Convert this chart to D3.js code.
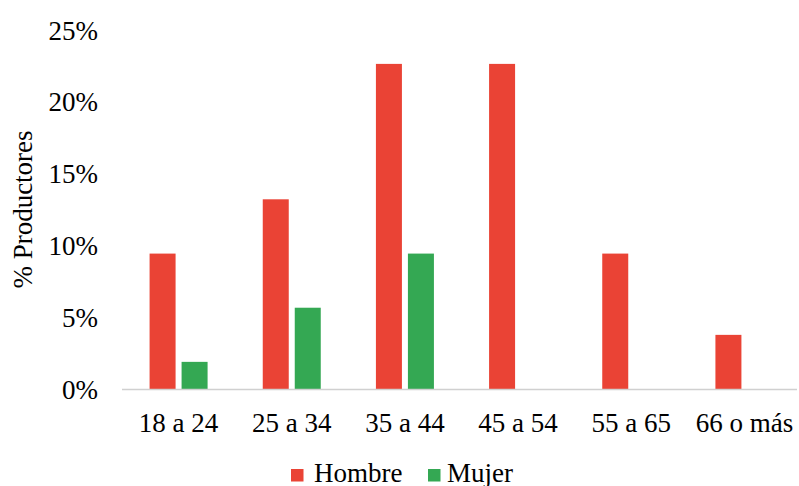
<!DOCTYPE html>
<html>
<head>
<meta charset="utf-8">
<script src="https://cdn.jsdelivr.net/npm/d3@7"></script>
<style>
  html, body { margin: 0; padding: 0; background: #fff; }
  svg { display: block; }
  svg text { font-family: "Times New Roman", "Liberation Serif", Times, serif; fill: #000; }
</style>
</head>
<body>
<svg id="chart" width="799" height="486"></svg>
<script>
const categories = ["18 a 24", "25 a 34", "35 a 44", "45 a 54", "55 a 65", "66 o más"];
const seriesNames = ["Hombre", "Mujer"];
const hombre = [9.43, 13.21, 22.64, 22.64, 9.43, 3.77];
const mujer = [1.89, 5.66, 9.43, 0, 0, 0];
const yTicks = [0, 5, 10, 15, 20, 25];
const colors = ["#EA4335", "#34A853"];

const svg = d3.select("#chart");
const fontSize = 27;

const x0 = d3.scaleBand().domain(categories).range([122, 801]).paddingInner(0).paddingOuter(0);
const bw = x0.bandwidth();
const x1 = d3.scaleBand().domain(seriesNames).range([bw / 2 - 29, bw / 2 + 29]).paddingInner(0.1875).paddingOuter(0);
const y = d3.scaleLinear().domain([0, 25]).range([389, 30]);

const data = categories.map((c, i) => ({ cat: c, values: [hombre[i], mujer[i]] }));

// bars
const groups = svg.append("g").selectAll("g").data(data).join("g")
  .attr("transform", d => `translate(${x0(d.cat)},0)`);
groups.selectAll("rect").data(d => d.values.map((v, j) => ({ name: seriesNames[j], v, j })))
  .join("rect")
  .filter(d => d.v > 0)
  .attr("x", d => x1(d.name))
  .attr("width", x1.bandwidth())
  .attr("y", d => y(d.v))
  .attr("height", d => y(0) - y(d.v))
  .attr("fill", d => colors[d.j]);

// x axis line
svg.append("line")
  .attr("x1", 122).attr("x2", 797)
  .attr("y1", y(0) + 0.5).attr("y2", y(0) + 0.5)
  .attr("stroke", "#d0d0d0").attr("stroke-width", 1.5);

// x labels
svg.append("g").selectAll("text").data(categories).join("text")
  .attr("x", d => x0(d) + bw / 2)
  .attr("y", 431.5)
  .attr("text-anchor", "middle")
  .attr("font-size", fontSize)
  .text(d => d);

// y tick labels
svg.append("g").selectAll("text").data(yTicks).join("text")
  .attr("x", 98)
  .attr("y", d => y(d) + 9.5)
  .attr("text-anchor", "end")
  .attr("font-size", fontSize)
  .text(d => d + "%");

// y title
svg.append("text")
  .attr("transform", `translate(32,${(y(0) + y(25)) / 2}) rotate(-90)`)
  .attr("text-anchor", "middle")
  .attr("font-size", fontSize)
  .text("% Productores");

// legend
const legendItems = [
  { name: "Hombre", sx: 291, tx: 314 },
  { name: "Mujer", sx: 428, tx: 447 }
];
const lg = svg.append("g");
legendItems.forEach((it, i) => {
  lg.append("rect").attr("x", it.sx).attr("y", 469).attr("width", 12.5).attr("height", 12.5).attr("fill", colors[i]);
  lg.append("text").attr("x", it.tx).attr("y", 481.5)
    .attr("font-size", fontSize).text(it.name);
});
</script>
</body>
</html>
